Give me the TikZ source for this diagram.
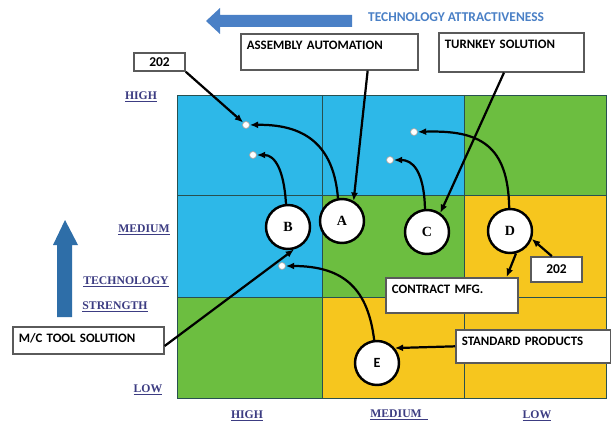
\documentclass[tikz,border=0pt]{standalone}
\usepackage{fontspec}
\setmainfont{Liberation Serif}
\newfontfamily\calibri{Carlito}
\usetikzlibrary{arrows.meta}

\definecolor{cellblue}{RGB}{45,184,232}
\definecolor{cellgreen}{RGB}{108,190,64}
\definecolor{cellyellow}{RGB}{246,198,30}
\definecolor{axisblue}{RGB}{74,128,198}
\definecolor{stemblue}{RGB}{46,110,168}
\definecolor{labelink}{RGB}{60,60,130}
\definecolor{framegray}{RGB}{90,90,90}
\definecolor{gridink}{RGB}{40,80,80}

\tikzset{
	bubble/.style={circle,draw=black,line width=2.1pt,fill=white,minimum size=1.32cm,inner sep=0pt,font=\bfseries\large},
	spot/.style={circle,draw=gray!70,line width=0.6pt,fill=white,minimum size=0.21cm,inner sep=0pt},
	tag/.style={draw=framegray,line width=1.4pt,fill=white,anchor=north west,align=left,
		inner xsep=0.18cm,inner ysep=0.21cm,text height=0.25cm,font=\calibri\bfseries\fontsize{11}{13}\selectfont},
	num/.style={draw=framegray,line width=1.4pt,fill=white,inner sep=0pt,font=\calibri\bfseries\fontsize{11.5}{13}\selectfont},
	scale label/.style={text=labelink,font=\bfseries\fontsize{10}{12}\selectfont},
	link/.style={line width=1.9pt,-{Latex[length=2.5mm,width=2.1mm]}}
}

\begin{document}
\begin{tikzpicture}[x=0.03cm,y=-0.03cm]
	\fill[white,use as bounding box] (0,0) rectangle (611,423);

	% the nine cells
	\fill[cellblue] (177,95) rectangle (322,297);
	\fill[cellblue] (322,95) rectangle (464,195);
	\fill[cellgreen] (464,95) rectangle (606,195);
	\fill[cellgreen] (322,195) rectangle (464,297);
	\fill[cellyellow] (464,195) rectangle (606,398);
	\fill[cellgreen] (177,297) rectangle (322,398);
	\fill[cellyellow] (322,297) rectangle (464,398);
	\draw[gridink,line width=0.8pt] (177,95) rectangle (606,398);
	\foreach \x in {322,464}
		\draw[gridink,line width=0.8pt] (\x,95) -- (\x,398);
	\foreach \y in {195,297}
		\draw[gridink,line width=0.8pt] (177,\y) -- (606,\y);

	% axes
	\fill[axisblue] (352,15) -- (220,15) -- (220,8) -- (206,21) -- (220,34) -- (220,27) -- (352,27) -- cycle;
	\node[text=axisblue,font=\calibri\bfseries\fontsize{11.5}{13}\selectfont,anchor=west] (attract) at (364,17) {TECHNOLOGY ATTRACTIVENESS};
	\fill[stemblue] (57,317) -- (57,245) -- (53,245) -- (65,220) -- (78,245) -- (72,245) -- (72,317) -- cycle;

	\node[scale label] (yhigh) at (141,97) {\underline{HIGH}};
	\node[scale label] (ymed) at (144,230) {\underline{MEDIUM}};
	\node[scale label] (ytech) at (126,282) {\underline{TECHNOLOGY}};
	\node[scale label] (ystr) at (115,307) {\underline{STRENGTH}};
	\node[scale label] (ylow) at (148,390) {\underline{LOW}};
	\node[scale label] (xhigh) at (247,416) {\underline{HIGH}};
	\node[scale label] (xmed) at (399,415) {\underline{MEDIUM\ \ }};
	\node[scale label] (xlow) at (537,416) {\underline{LOW}};

	% products
	\node[bubble] (B) at (288,227) {B};
	\node[bubble] (A) at (342,221) {A};
	\node[bubble] (C) at (427,232) {C};
	\node[bubble] (D) at (510,231) {D};
	\node[bubble,font=\calibri\bfseries\large] (E) at (377,363) {E};

	\node[spot] (dotA) at (246,125) {};
	\node[spot] (dotB) at (253,155) {};
	\node[spot] (dotD) at (414,132) {};
	\node[spot] (dotC) at (390,160) {};
	\node[spot] (dotE) at (282,266) {};

	\node[num,minimum width=1.53cm,minimum height=0.54cm] (topnum) at (159.5,62) {202};
	\node[tag,text width=4.95cm,text depth=0.41cm] (assembly) at (240,33) {ASSEMBLY AUTOMATION};
	\node[tag,text width=3.99cm,text depth=0.50cm] (turnkey) at (438,32) {TURNKEY SOLUTION};
	\node[tag,text width=3.60cm,text depth=0.38cm] (contract) at (385,277) {CONTRACT MFG.};
	\node[num,minimum width=1.53cm,minimum height=0.75cm] (sidenum) at (556.5,269.5) {202};
	\node[tag,text width=4.29cm,text depth=0.32cm] (standard) at (455,329) {STANDARD PRODUCTS};
	\node[tag,text width=4.17cm,text depth=0.14cm] (mctool) at (12,326) {M/C TOOL SOLUTION};

	% moves
	\draw[link] (topnum.south east) -- (dotA);
	\draw[link] (A.100) .. controls (334,150) and (310,124) .. (dotA);
	\draw[link] ([xshift=1.15cm]assembly.south) -- (A.60);
	\draw[link] (B.95) .. controls (284,170) and (275,155) .. (dotB);
	\draw[link] ([xshift=-0.22cm]turnkey.south) -- (C.55);
	\draw[link] (C.95) .. controls (424,170) and (412,160) .. (dotC);
	\draw[link] (D.92) .. controls (508,145) and (480,130) .. (dotD);
	\draw[link] ([yshift=-0.17cm]mctool.east) -- (B.-75);
	\draw[link] (E.97) .. controls (368,290) and (345,266) .. (dotE);
	\draw[link] (standard.west) -- (E.40);
	\draw[link] (D.-75) -- ([xshift=-0.36cm]contract.north east);
	\draw[link] ([xshift=-0.14cm]sidenum.north) -- (D.-20);
\end{tikzpicture}
\end{document}
